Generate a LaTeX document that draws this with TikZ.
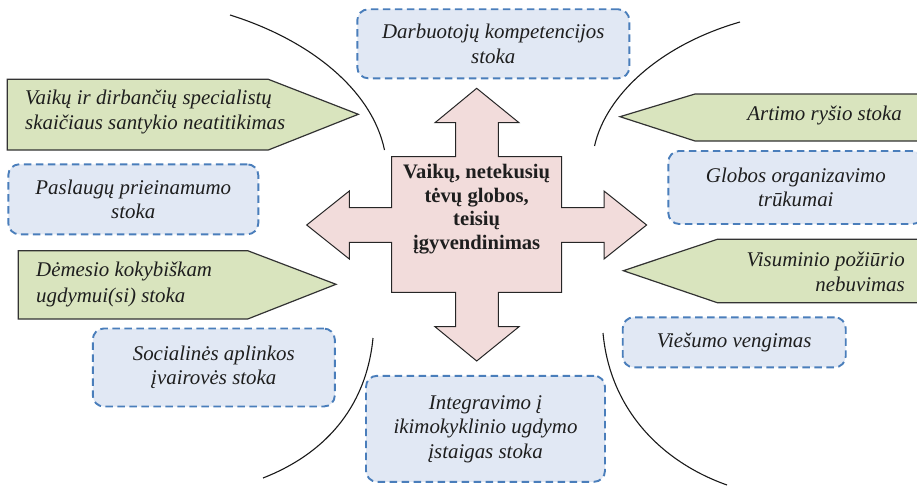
\documentclass[tikz,border=0pt]{standalone}
\usepackage{fontspec}
\setmainfont{Liberation Serif}
\definecolor{crossfill}{HTML}{F2DCDB}
\definecolor{pentfill}{HTML}{D9E4BE}
\definecolor{boxfill}{HTML}{E1E8F4}
\definecolor{boxline}{HTML}{4A7EBB}
\definecolor{txt}{HTML}{1E1E1E}
\begin{document}
\begin{tikzpicture}[x=1pt,y=-1pt,
  dbox/.style={draw=boxline,fill=boxfill,line width=1.9pt,dash pattern=on 7.5pt off 4.5pt,
    rounded corners=11pt,inner sep=0pt,align=center,text=txt,
    font=\itshape\fontsize{20.9}{24.5}\selectfont},
  pent/.style={draw=black!80,fill=pentfill,line width=1.2pt},
  ptext/.style={inner sep=0pt,text=txt,font=\itshape\fontsize{20.9}{25.5}\selectfont},
  cross/.style={draw=black!85,fill=crossfill,line width=1pt},
  arc/.style={draw=black!90,line width=1.1pt}]
\useasboundingbox (0,0) rectangle (917,487);
\clip (0,0) rectangle (917,487);
% arcs
\draw[arc] (230,15) .. controls (310,40) and (372,90) .. (384.5,150);
\draw[arc] (740,22) .. controls (660,45) and (606,95) .. (594.5,146);
\draw[arc] (373,338) .. controls (366,410) and (322,455) .. (263,478);
\draw[arc] (603,333) .. controls (610,410) and (662,462) .. (727,485);
% cross arrow
\draw[cross] (476.7,88.3) -- (519,122.7) -- (498.3,122.7) -- (498.3,156.7) -- (561.7,156.7)
  -- (561.7,207.7) -- (604,207.7) -- (604,191) -- (646.6,225) -- (604,259) -- (604,242.3)
  -- (561.7,242.3) -- (561.7,292.3) -- (498.3,292.3) -- (498.3,326.7) -- (519,326.7)
  -- (476.7,361) -- (435,326.7) -- (455.7,326.7) -- (455.7,292.3) -- (391.7,292.3)
  -- (391.7,242.3) -- (349.3,242.3) -- (349.3,259) -- (306.7,225) -- (349.3,191)
  -- (349.3,207.7) -- (391.7,207.7) -- (391.7,156.7) -- (455.7,156.7) -- (455.7,122.7)
  -- (435,122.7) -- cycle;
\node[inner sep=0pt,align=center,text=txt,font=\bfseries\fontsize{20.6}{23.7}\selectfont]
  (center) at (476.7,209) {Vaikų, netekusių\\tėvų globos,\\teisių\\įgyvendinimas};
% pentagons
\draw[pent] (7.3,79.3) -- (268.3,79.3) -- (358.3,114.3) -- (268.3,150) -- (7.3,150) -- cycle;
\node[ptext,anchor=west,align=left] (p1) at (25,112) {Vaikų ir dirbančių specialistų\\skaičiaus santykio neatitikimas};
\draw[pent] (18.3,250.7) -- (247.7,250.7) -- (336,284.3) -- (247.7,319) -- (18.3,319) -- cycle;
\node[ptext,anchor=west,align=left] (p2) at (36,284.5) {Dėmesio kokybiškam\\ugdymui(si) stoka};
\draw[pent] (930,94) -- (695,94) -- (620,116.7) -- (695,141) -- (930,141) -- cycle;
\node[ptext,anchor=east,align=right] (p3) at (902,115) {Artimo ryšio stoka};
\draw[pent] (930,239.3) -- (717.3,239.3) -- (623.3,270.7) -- (717.3,302.7) -- (930,302.7) -- cycle;
\node[ptext,anchor=east,align=right] (p4) at (905,272) {Visuminio požiūrio\\nebuvimas};
% dashed boxes
\node[dbox,minimum width=272pt,minimum height=69pt] (b1) at (493.3,43.8) {Darbuotojų kompetencijos\\stoka};
\node[dbox,minimum width=250pt,minimum height=70pt] (b2) at (133.3,199.3) {Paslaugų prieinamumo\\stoka};
\node[dbox,minimum width=242pt,minimum height=78pt] (b3) at (213.8,367.5) {Socialinės aplinkos\\įvairovės stoka};
\node[dbox,minimum width=239pt,minimum height=106pt] (b4) at (485.5,428.8) {Integravimo į\\ikimokyklinio ugdymo\\įstaigas stoka};
\node[dbox,minimum width=255pt,minimum height=73pt] (b5) at (795.8,187.5) {Globos organizavimo\\trūkumai};
\node[dbox,minimum width=223pt,minimum height=50pt] (b6) at (734.2,342.3) {Viešumo vengimas};
\end{tikzpicture}
\end{document}
